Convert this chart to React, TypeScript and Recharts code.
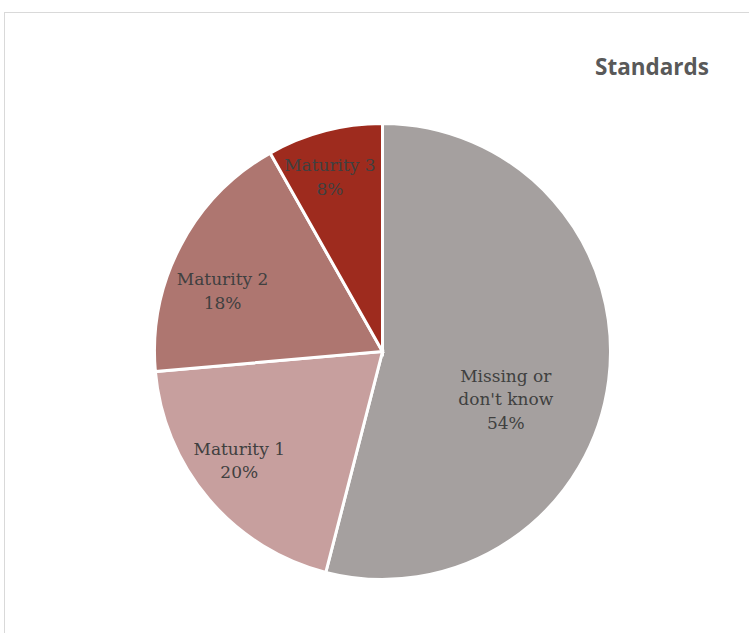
import React from 'react';
import { PieChart, Pie, Cell } from 'recharts';

const categories = ['Missing or\ndon\'t know', 'Maturity 1', 'Maturity 2', 'Maturity 3'];
const shares = [54.0, 19.6, 18.2, 8.2];
const colors = ['#A5A09F', '#C79F9E', '#AE7670', '#9E2B1E'];

// label placement tweaks (radius fraction, angle shift in degrees), mimicking Excel's best fit
const labelTweaks = [
  { r: 0.58, shift: -14 },
  { r: 0.79, shift: -3 },
  { r: 0.75, shift: 7 },
  { r: 0.8, shift: 2 },
];

const data = categories.map((name, i) => ({ name, value: shares[i] }));

const RADIAN = Math.PI / 180;

const renderLabel = (props: any) => {
  const { cx, cy, midAngle, outerRadius, index, value } = props;
  const t = labelTweaks[index];
  const ang = (midAngle + t.shift) * RADIAN;
  const r = outerRadius * t.r;
  const x = cx + r * Math.cos(ang);
  const y = cy - r * Math.sin(ang);
  const lines = [...String(categories[index]).split('\n'), `${Math.round(value)}%`];
  const lh = 23.5;
  const y0 = y - ((lines.length - 1) * lh) / 2;
  return (
    <text
      x={x}
      y={y0}
      textAnchor="middle"
      dominantBaseline="central"
      fill="#404040"
      style={{ fontFamily: '"DejaVu Serif", serif', fontSize: 17 }}
    >
      {lines.map((l, i) => (
        <tspan key={`l-${i}`} x={x} dy={i === 0 ? 0 : lh}>
          {l}
        </tspan>
      ))}
    </text>
  );
};

export default function App() {
  return (
    <div style={{ position: 'absolute', left: 0, top: 0, width: 749, height: 633, overflow: 'hidden', background: '#fff' }}>
      <div
        style={{
          position: 'absolute',
          left: 4,
          top: 12,
          width: 800,
          height: 700,
          border: '1.5px solid #d9d9d9',
        }}
      />
      <div
        style={{
          position: 'absolute',
          left: 595,
          top: 51,
          fontFamily: '"Open Sans", sans-serif',
          fontWeight: 700,
          fontSize: 22.5,
          color: '#595959',
          whiteSpace: 'nowrap',
        }}
      >
        Standards
      </div>
      <div style={{ position: 'absolute', left: 0, top: 0 }}>
        <PieChart width={749} height={633} margin={{ top: 0, right: 0, bottom: 0, left: 0 }}>
          <Pie
            data={data}
            dataKey="value"
            nameKey="name"
            cx={382.5}
            cy={351.5}
            outerRadius={228}
            startAngle={90}
            endAngle={-270}
            stroke="#fff"
            strokeWidth={3}
            labelLine={false}
            label={renderLabel}
            isAnimationActive={false}
          >
            {data.map((d, i) => (
              <Cell key={`c-${i}`} fill={colors[i]} />
            ))}
          </Pie>
        </PieChart>
      </div>
    </div>
  );
}
